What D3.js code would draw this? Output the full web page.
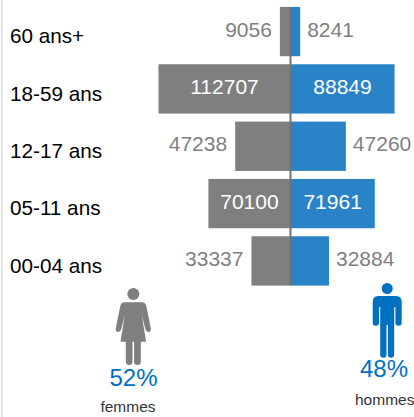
<!doctype html>
<html>
	<head>
		<script src="https://d3js.org/d3.v7.min.js"></script>
		<style>
		body { margin: 0; background: #fff; }
		svg { display: block; }
		text { font-family: "Liberation Sans", Arial, sans-serif; }
		</style>
	</head>
	<body>
		<svg id="chart" width="414" height="417"></svg>
		<script>
		var categories = ["60 ans+", "18-59 ans", "12-17 ans", "05-11 ans", "00-04 ans"];
		var femmes = [9056, 112707, 47238, 70100, 33337];
		var hommes = [8241, 88849, 47260, 71961, 32884];
		var shares = [{label: "femmes", pct: "52%"}, {label: "hommes", pct: "48%"}];

		var GREY = "#7f7f7f", BLUE = "#2a83c6", ICON_BLUE = "#0070c0", LABEL_GREY = "#7f7f7f";
		var center = 290.5;
		var svg = d3.select("#chart");

		var x = d3.scaleLinear().domain([0, 112707]).range([0, 132]);
		var y = d3.scaleBand().domain(categories).range([2.9, 289.6]).paddingInner(0.14).paddingOuter(0.07);

		svg.append("rect").attr("x", 1).attr("y", 0).attr("width", 1.5).attr("height", 417).attr("fill", "#dcdcdc");

		var rows = categories.map(function(c, i) { return {cat: c, f: femmes[i], h: hommes[i]}; });

		svg.selectAll(".f").data(rows).join("rect").attr("class", "f")
			.attr("x", function(d) { return center - x(d.f); })
			.attr("y", function(d) { return y(d.cat); })
			.attr("width", function(d) { return x(d.f); })
			.attr("height", y.bandwidth())
			.attr("fill", GREY);

		svg.selectAll(".h").data(rows).join("rect").attr("class", "h")
			.attr("x", center)
			.attr("y", function(d) { return y(d.cat); })
			.attr("width", function(d) { return x(d.h); })
			.attr("height", y.bandwidth())
			.attr("fill", BLUE);

		svg.append("line")
			.attr("x1", center).attr("x2", center)
			.attr("y1", y(categories[0])).attr("y2", y(categories[4]) + y.bandwidth())
			.attr("stroke", "#737373").attr("stroke-width", 2);

		svg.selectAll(".cat").data(rows).join("text").attr("class", "cat")
			.attr("x", 10)
			.attr("y", function(d) { return y(d.cat) + y.bandwidth() / 2 + 11.7; })
			.attr("font-size", 20.7).attr("fill", "#000")
			.text(function(d) { return d.cat; });

		// big bars carry the label inside in white, small ones outside in grey
		function inside(v) { return x(v) > 70; }

		svg.selectAll(".fl").data(rows).join("text").attr("class", "fl")
			.attr("x", function(d) { return inside(d.f) ? center - x(d.f) / 2 : center - x(d.f) - 8; })
			.attr("y", function(d) { return y(d.cat) + y.bandwidth() / 2 + 5; })
			.attr("text-anchor", function(d) { return inside(d.f) ? "middle" : "end"; })
			.attr("font-size", 21)
			.attr("fill", function(d) { return inside(d.f) ? "#fff" : LABEL_GREY; })
			.text(function(d) { return d.f; });

		svg.selectAll(".hl").data(rows).join("text").attr("class", "hl")
			.attr("x", function(d) { return inside(d.h) ? center + x(d.h) / 2 : center + x(d.h) + 7; })
			.attr("y", function(d) { return y(d.cat) + y.bandwidth() / 2 + 5; })
			.attr("text-anchor", function(d) { return inside(d.h) ? "middle" : "start"; })
			.attr("font-size", 21)
			.attr("fill", function(d) { return inside(d.h) ? "#fff" : LABEL_GREY; })
			.text(function(d) { return d.h; });

		// pictograms
		var woman = svg.append("g").attr("transform", "translate(133.3,288)").attr("fill", GREY);
		woman.append("circle").attr("cx", 0).attr("cy", 6).attr("r", 6);
		woman.append("path").attr("d", "M-9 14.3 H9 Q12 14.3 13 18 L17.5 40 Q18 44 15 44 Q13 44 12 41 L8.5 27 L12.8 53.7 H7.5 V74 Q7.5 77 4 77 Q0.8 77 0.8 74 V53.7 H-0.8 V74 Q-0.8 77 -4 77 Q-7.5 77 -7.5 74 V53.7 H-12.8 L-8.5 27 L-12 41 Q-13 44 -15 44 Q-18 44 -17.5 40 L-13 18 Q-12 14.3 -9 14.3 Z");

		var man = svg.append("g").attr("transform", "translate(387.2,283)").attr("fill", ICON_BLUE);
		man.append("circle").attr("cx", 0).attr("cy", 5.5).attr("r", 5.5);
		man.append("path").attr("d", "M-9 13 H9 Q14.5 13 14.5 19 V40 Q14.5 42.7 11.4 42.7 Q8.2 42.7 8.2 40 V24 H7 V71.5 Q7 74.7 3.8 74.7 Q0.7 74.7 0.7 71.5 V42 H-0.7 V71.5 Q-0.7 74.7 -3.8 74.7 Q-7 74.7 -7 71.5 V24 H-8.2 V40 Q-8.2 42.7 -11.4 42.7 Q-14.5 42.7 -14.5 40 V19 Q-14.5 13 -9 13 Z");

		svg.append("text").attr("x", 133.5).attr("y", 386).attr("text-anchor", "middle")
			.attr("font-size", 24).attr("fill", ICON_BLUE).text(shares[0].pct);
		svg.append("text").attr("x", 384).attr("y", 376.7).attr("text-anchor", "middle")
			.attr("font-size", 24).attr("fill", ICON_BLUE).text(shares[1].pct);
		svg.append("text").attr("x", 128).attr("y", 412).attr("text-anchor", "middle")
			.attr("font-size", 15.5).attr("fill", "#333").text(shares[0].label);
		svg.append("text").attr("x", 355).attr("y", 404.5)
			.attr("font-size", 15.5).attr("fill", "#333").text(shares[1].label);
		</script>
	</body>
</html>
